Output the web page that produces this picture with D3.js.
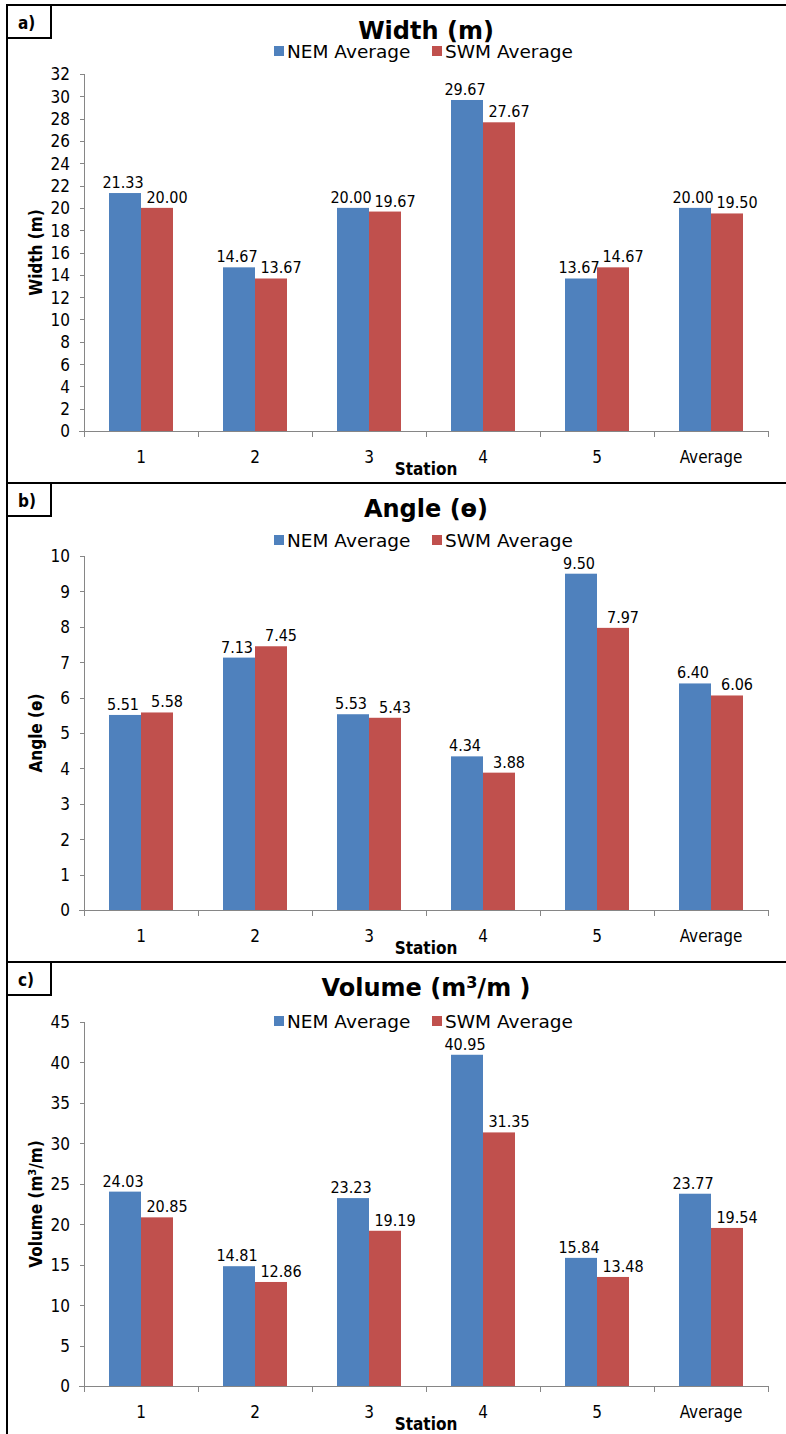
<!DOCTYPE html>
<meta charset="utf-8">
<style>
body { margin: 0; background: #fff; }
svg { font-family: "DejaVu Sans Condensed", "DejaVu Sans", sans-serif; }
.axis path, .axis line { stroke: #868686; shape-rendering: crispEdges; }
.axis text { font-size: 17px; fill: #000; font-family: "DejaVu Sans Condensed", sans-serif; }
.frame { stroke: #000; stroke-width: 1.5; fill: none; shape-rendering: crispEdges; }
.legend text { font-family: "DejaVu Sans", sans-serif; }
</style>
<body>
<div id="vis-container"></div>
<script src="https://cdn.jsdelivr.net/npm/d3@7"></script>
<script>

// data
var stations = ['1', '2', '3', '4', '5', 'Average'];
var seriesNames = ['NEM Average', 'SWM Average'];
var colors = ['#4F81BD', '#C0504D'];

var widthNEM = [21.33, 14.67, 20.00, 29.67, 13.67, 20.00];
var widthSWM = [20.00, 13.67, 19.67, 27.67, 14.67, 19.50];
var angleNEM = [5.51, 7.13, 5.53, 4.34, 9.50, 6.40];
var angleSWM = [5.58, 7.45, 5.43, 3.88, 7.97, 6.06];
var volumeNEM = [24.03, 14.81, 23.23, 40.95, 15.84, 23.77];
var volumeSWM = [20.85, 12.86, 19.19, 31.35, 13.48, 19.54];

var widthTicks = d3.range(0, 33, 2);
var angleTicks = d3.range(0, 11, 1);
var volumeTicks = d3.range(0, 46, 5);

var W = 786, H = 1434;

var svg = d3.select("#vis-container").append("svg")
    .attr("width", W)
    .attr("height", H);

var x0 = d3.scaleBand().domain(stations).range([84, 768]).paddingInner(0).paddingOuter(0);

// label nudges (labels sit a bit apart, like the excel original)
var labelShift = [-2, 10];

// one panel
var drawPanel = function(p) {
    var g = svg.append("g");
    var top = p.top;

    // separator line + letter box
    g.append("line").attr("class", "frame")
        .attr("x1", 7).attr("x2", W).attr("y1", top).attr("y2", top);
    g.append("rect").attr("class", "frame")
        .attr("x", 7).attr("y", top).attr("width", 44).attr("height", 33);
    g.append("text")
        .attr("x", 18).attr("y", top + 24)
        .attr("font-size", 17).attr("font-weight", "bold")
        .text(p.letter);

    var y = d3.scaleLinear().domain([0, p.max]).range([p.zero, p.topTick]);

    // title
    var t = g.append("text")
        .attr("x", 426).attr("y", top + 34)
        .attr("text-anchor", "middle")
        .attr("font-family", "DejaVu Sans, sans-serif")
        .attr("font-size", 24).attr("font-weight", "bold");
    p.title(t);

    // legend
    var lg = g.append("g").attr("class", "legend")
        .attr("transform", "translate(0," + (top + p.legendY) + ")");
    var lx = [274, 432];
    seriesNames.forEach(function(s, i) {
        lg.append("rect").attr("x", lx[i]).attr("y", -5).attr("width", 10).attr("height", 10)
            .attr("fill", colors[i]);
        lg.append("text").attr("x", lx[i] + 13).attr("y", 6.5)
            .attr("font-size", 18.5).text(s);
    });

    // y axis
    var ya = g.append("g").attr("class", "axis")
        .attr("transform", "translate(84,0)")
        .call(d3.axisLeft(y).tickValues(p.ticks).tickSize(4).tickSizeOuter(4).tickPadding(10));
    ya.selectAll("text").attr("dy", "0.35em");

    // x axis
    var xa = g.append("g").attr("class", "axis")
        .attr("transform", "translate(0," + p.zero + ")");
    xa.append("line").attr("x1", 79).attr("x2", 768).attr("y1", 0).attr("y2", 0);
    var bounds = stations.map(function(d) { return x0(d); }).concat([768]);
    xa.selectAll(".tk").data(bounds).enter().append("line")
        .attr("x1", function(d) { return d; }).attr("x2", function(d) { return d; })
        .attr("y1", 0).attr("y2", 6);
    xa.selectAll(".lab").data(stations).enter().append("text")
        .attr("x", function(d) { return x0(d) + x0.bandwidth() / 2; })
        .attr("y", 32).attr("text-anchor", "middle")
        .text(function(d) { return d; });

    g.append("text")
        .attr("x", 426).attr("y", p.zero + 44)
        .attr("text-anchor", "middle")
        .attr("font-size", 17).attr("font-weight", "bold")
        .text("Station");

    // y title
    var yt = g.append("text")
        .attr("transform", "translate(42," + ((p.zero + p.topTick) / 2) + ") rotate(-90)")
        .attr("text-anchor", "middle")
        .attr("font-size", 17).attr("font-weight", "bold");
    p.ytitle(yt);

    // bars
    var x1 = d3.scaleBand().domain([0, 1]).range([25, x0.bandwidth() - 25]);
    var rows = stations.map(function(s, i) {
        return { s: s, v: [p.a[i], p.b[i]] };
    });
    var grp = g.selectAll(".grp").data(rows).enter().append("g")
        .attr("transform", function(d) { return "translate(" + x0(d.s) + ",0)"; });
    grp.selectAll("rect").data(function(d) { return d.v; }).enter().append("rect")
        .attr("x", function(d, i) { return x1(i); })
        .attr("width", x1.bandwidth())
        .attr("y", function(d) { return y(d); })
        .attr("height", function(d) { return p.zero - y(d); })
        .attr("fill", function(d, i) { return colors[i]; });
    grp.selectAll(".val").data(function(d) { return d.v; }).enter().append("text")
        .attr("x", function(d, i) { return x1(i) + x1.bandwidth() / 2 + labelShift[i]; })
        .attr("y", function(d) { return y(d) - 5; })
        .attr("text-anchor", "middle")
        .attr("font-size", 16)
        .text(function(d) { return d.toFixed(2); });
};

// left border
svg.append("line").attr("class", "frame")
    .attr("x1", 7).attr("x2", 7).attr("y1", 5).attr("y2", H);

drawPanel({
    top: 5, letter: 'a)', legendY: 46, topTick: 74, zero: 431, max: 32,
    ticks: widthTicks, a: widthNEM, b: widthSWM,
    title: function(t) { t.text("Width (m)"); },
    ytitle: function(t) { t.text("Width (m)"); }
});

drawPanel({
    top: 483, letter: 'b)', legendY: 57, topTick: 556, zero: 910, max: 10,
    ticks: angleTicks, a: angleNEM, b: angleSWM,
    title: function(t) { t.text("Angle (ɵ)"); },
    ytitle: function(t) { t.text("Angle (ɵ)"); }
});

drawPanel({
    top: 962, letter: 'c)', legendY: 59, topTick: 1022, zero: 1386, max: 45,
    ticks: volumeTicks, a: volumeNEM, b: volumeSWM,
    title: function(t) {
        t.append("tspan").text("Volume (m");
        t.append("tspan").attr("font-size", 16).attr("dy", -8).text("3");
        t.append("tspan").attr("dy", 8).text("/m )");
    },
    ytitle: function(t) {
        t.append("tspan").text("Volume (m");
        t.append("tspan").attr("font-size", 11).attr("dy", -6).text("3");
        t.append("tspan").attr("dy", 6).text("/m)");
    }
});

</script>
</body>
</html>
